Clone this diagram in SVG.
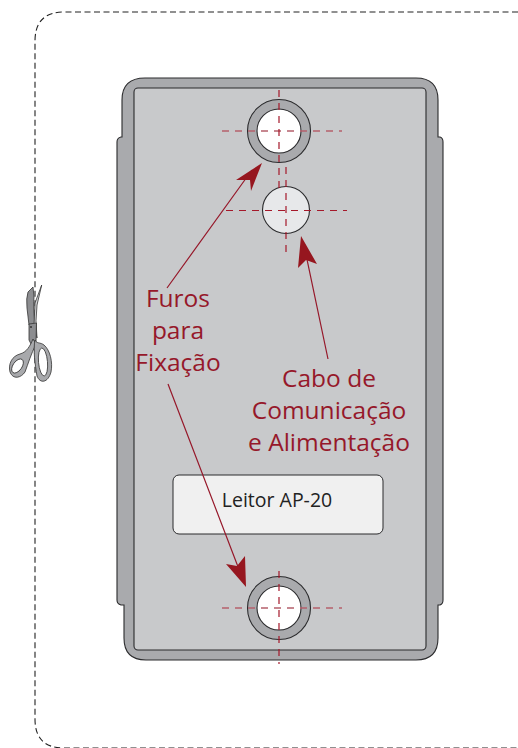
<svg xmlns="http://www.w3.org/2000/svg" width="518" height="748" viewBox="0 0 518 748">
<style>
.ol{stroke:#2b2b2d;stroke-width:1.1}
.sc{stroke:#333;stroke-width:.8}
.cl{fill:none;stroke:#a5182a;stroke-width:1.2;stroke-dasharray:7 6}
.cl2{fill:none;stroke:#b5606c;stroke-width:1.3;stroke-dasharray:7 6}
.lead{fill:none;stroke:#96182a;stroke-width:1.2}
.head{fill:#96161f}
.lab{font-family:"Open Sans","Noto Sans",sans-serif;font-size:24.500px;fill:#96182a;text-anchor:middle}
</style>
<rect width="518" height="748" fill="#fff"/>
<g id="cut-line"><path d="M518 12H64Q35 12 35 41V719Q35 748 64 748H518" fill="none" stroke="#222" stroke-width="1.1" stroke-dasharray="6 3.5"/></g>
<g id="scissors">
<path class="sc" fill="#8c8d90" d="M33 287L28 292Q26 298 27 308L29 325L35 325Q33 305 34 297Z"/>
<path class="sc" fill="#d4d5d7" d="M41.700 285L35 303L34 325L37 338Q35 320 37 305Z"/>
<path class="sc" fill="#8c8d90" d="M29 324L36.500 323L36 342L32 346L29 340Z"/>
<path class="sc" fill="#a8a9ac" d="M33 339C30 346 27 352 20 354C12 356 8 364 10 372C13 380 21 378 25 372C28 364 31 354 36 344Z"/>
<ellipse class="sc" cx="17.500" cy="366" rx="4.500" ry="8" transform="rotate(35 17.500 366)" fill="#fff"/>
<path class="sc" fill="#a8a9ac" d="M35 340C37 344 40 342 44 345C50 350 53 362 51 372C48 383 40 384 37 376C35 364 33 350 35 340Z"/>
<ellipse class="sc" cx="43" cy="362" rx="4.500" ry="14" transform="rotate(-5 43 362)" fill="#fff"/>
<circle cx="31" cy="327" r="1" fill="#333"/>
</g>
<g id="housing">
<path class="ol" fill="#a9aaad" d="M122 137V100Q122 78 145 78H416Q438 78 438 100V137H440Q443 138 443 142V600Q443 604 440 605H438V638Q438 660 416 660H146Q124 660 124 638V605H121Q117 604 117 600V142Q117 138 121 137Z"/>
<rect class="ol" x="134" y="88" width="292" height="562" rx="4" fill="#c8c9cb"/>
</g>
<g id="hole-top"><circle class="ol" cx="279" cy="131" r="31.500" fill="#a9aaad"/><circle class="ol" cx="279" cy="131" r="22" fill="#fff"/></g>
<g id="cable-hole"><circle class="ol" cx="286" cy="210" r="23.500" fill="#e7e8ea"/></g>
<g id="hole-bottom"><circle class="ol" cx="279" cy="608" r="31.500" fill="#a9aaad"/><circle class="ol" cx="279" cy="608" r="22" fill="#fff"/></g>
<g id="reader-label"><rect x="173" y="475" width="210" height="59" rx="6" fill="#f0f0f0" stroke="#2b2b2d" stroke-width="1"/><text x="277" y="507" font-family="Open Sans,Noto Sans,sans-serif" font-size="19.500" fill="#222" text-anchor="middle">Leitor AP-20</text></g>
<g id="connectors">
<path class="cl2" d="M222 131H342M222 608H342"/>
<path class="cl" d="M279 90V190M279 571V664M286 167V255M226 210.500H347"/>
<path class="lead" d="M167 288L252 170M328 359L305 250M168 384L240 572"/>
<polygon class="head" points="262,163 236,180 250,180 251,191"/>
<polygon class="head" points="301,236 298,268 306,260 317,264"/>
<polygon class="head" points="246,587 226,564 237,566 245,556"/>
</g>
<g id="labels">
<text class="lab" x="178" y="307">Furos</text>
<text class="lab" x="178" y="339">para</text>
<text class="lab" x="178" y="371">Fixação</text>
<text class="lab" x="329" y="387">Cabo de</text>
<text class="lab" x="329" y="419">Comunicação</text>
<text class="lab" x="329" y="451">e Alimentação</text>
</g>
</svg>
